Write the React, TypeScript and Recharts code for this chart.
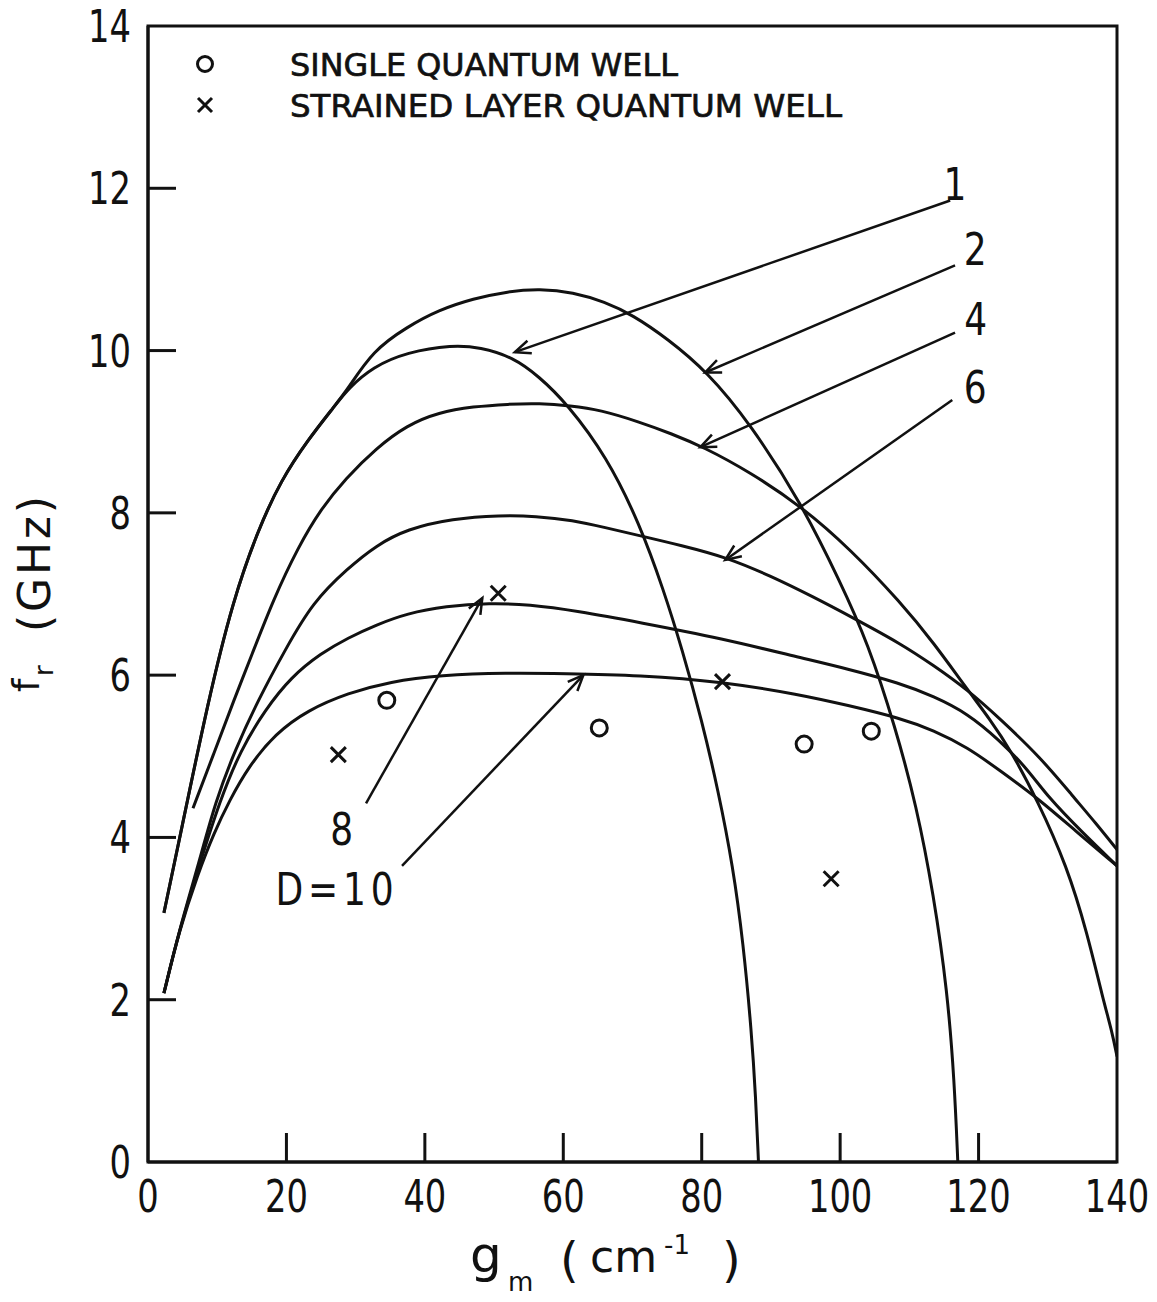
import React from "react";
import {
  ComposedChart,
  Line,
  Scatter,
  XAxis,
  YAxis,
  ReferenceLine,
  ReferenceDot,
  ReferenceArea,
} from "recharts";

type Pt = [number, number];

const xTicks = [0, 20, 40, 60, 80, 100, 120, 140];
const yTicks = [0, 2, 4, 6, 8, 10, 12, 14];

// [g_m, f_r]
// D=1 and D=2 share the rising branch
const riseD12: Pt[] = [
  [2.3, 3.07], [4.6, 4.0], [8.7, 5.69], [12.3, 6.93], [15.9, 7.79],
  [19.2, 8.4], [23.1, 8.9], [27, 9.32], [28.9, 9.53],
];
const fallD1: Pt[] = [
  [32.5, 9.8], [37.4, 9.98], [44, 10.07], [48, 10.04], [52.7, 9.92],
  [56.5, 9.68], [60.5, 9.35], [66.3, 8.69], [71, 7.87], [74.5, 7.05],
  [77.2, 6.31], [80, 5.45], [82.4, 4.57], [84.5, 3.65], [86, 2.7],
  [87.2, 1.6], [87.8, 0.8], [88.2, 0],
];
const fallD2: Pt[] = [
  [32.5, 10.0], [37.4, 10.29], [42, 10.5], [47, 10.64], [52, 10.73],
  [56.6, 10.76], [61.4, 10.72], [66, 10.6], [70, 10.44], [75, 10.15],
  [80.8, 9.74], [87, 9.1], [94.4, 8.12], [100, 7.15], [104, 6.4],
  [108, 5.35], [111, 4.4], [113.5, 3.3], [115.5, 2.1], [116.5, 1.0],
  [117, 0],
];
const curveD4: Pt[] = [
  [6.5, 4.36], [9.5, 5.03], [12.4, 5.69], [15, 6.25], [18.1, 6.93],
  [21.7, 7.58], [25, 8.05], [28.5, 8.42], [33, 8.8], [37.4, 9.08],
  [42, 9.24], [47, 9.31], [52, 9.34], [56.6, 9.35], [61, 9.32],
  [65.3, 9.27], [71, 9.12], [75.5, 8.98], [80.3, 8.81], [87, 8.5],
  [94.4, 8.08], [101.5, 7.55], [108.7, 6.9], [113.5, 6.4], [118.4, 5.82],
  [121.7, 5.45], [124.6, 5.08], [128.5, 4.46], [132.8, 3.64], [135.7, 2.82],
  [138, 2.0], [139.3, 1.6], [140, 1.3],
];
const curveD6: Pt[] = [
  [2.3, 2.08], [4.5, 2.85], [7.2, 3.64], [9.8, 4.46], [12.6, 5.08],
  [15.9, 5.69], [19.8, 6.31], [23.8, 6.9], [28.9, 7.32], [33, 7.6],
  [37.4, 7.8], [44, 7.93], [50.9, 7.97], [56, 7.96], [61.4, 7.91],
  [66, 7.82], [71, 7.72], [77, 7.6], [83.7, 7.45], [90, 7.22],
  [96, 6.97], [102, 6.7], [108.7, 6.39], [113.5, 6.12], [118.4, 5.82],
  [123, 5.47], [128.9, 4.99], [133.7, 4.5], [137, 4.17], [140, 3.85],
];
const curveD8: Pt[] = [
  [2.3, 2.08], [4.5, 2.85], [7.2, 3.6], [10.4, 4.46], [13.4, 5.08],
  [16.9, 5.57], [20.7, 5.98], [25, 6.27], [28.9, 6.46], [33, 6.62],
  [37.4, 6.76], [43, 6.85], [49.4, 6.89], [55, 6.87], [62, 6.79],
  [71, 6.65], [83, 6.45], [94, 6.22], [101, 6.08], [108.7, 5.9],
  [113.5, 5.74], [118.4, 5.53], [123, 5.2], [127, 4.85], [130, 4.5],
  [135, 4.06], [140, 3.65],
];
const curveD10: Pt[] = [
  [2.3, 2.08], [4.5, 2.85], [7.2, 3.55], [9.5, 4.05], [11.8, 4.46],
  [14.5, 4.87], [18.4, 5.28], [23.1, 5.57], [28.9, 5.78], [35, 5.92],
  [42.2, 6.0], [51.9, 6.03], [60, 6.02], [71, 6.0], [83, 5.92],
  [94.2, 5.76], [101, 5.63], [108.7, 5.47], [113.5, 5.32], [118.4, 5.11],
  [123, 4.83], [128.9, 4.46], [134, 4.08], [140, 3.65],
];

// measured points
const singleQW: Pt[] = [[34.5, 5.69], [65.2, 5.35], [94.8, 5.15], [104.5, 5.31]];
const strainedQW: Pt[] = [[27.5, 5.02], [50.6, 7.01], [83, 5.92], [98.7, 3.49]];

// curve labels: text, g, f (baseline centre)
const curveLabels: [string, number, number][] = [
  ["1", 116.6, 11.85],
  ["2", 119.5, 11.05],
  ["4", 119.6, 10.19],
  ["6", 119.5, 9.35],
  ["8", 28.0, 3.91],
  ["D=10", 27.3, 3.17],
];

// arrows: tail g, tail f, tip g, tip f
const arrows: [number, number, number, number][] = [
  [115.9, 11.85, 53, 9.98],
  [116.6, 11.05, 80.5, 9.73],
  [116.6, 10.22, 79.8, 8.81],
  [116.2, 9.39, 83.4, 7.42],
  [31.5, 4.42, 48.3, 6.95],
  [36.7, 3.65, 62.9, 6.0],
];

const toPts = (a: Pt[]) => a.map(([g, f]) => ({ g, f }));

const curves = [
  { name: "D=1", pts: [...riseD12, ...fallD1] },
  { name: "D=2", pts: [...riseD12, ...fallD2] },
  { name: "D=4", pts: curveD4 },
  { name: "D=6", pts: curveD6 },
  { name: "D=8", pts: curveD8 },
  { name: "D=10", pts: curveD10 },
];

const INK = "#111";
const FONT = "DejaVu Sans";

const XTick = (p: any) => {
  const { x, y, payload } = p;
  const v = payload.value;
  const inner = v !== 0 && v !== 140;
  return (
    <g>
      {inner && <line x1={x} y1={y} x2={x} y2={y - 29} stroke={INK} strokeWidth={3} />}
      <g transform={`translate(${x},${y + 50}) scale(0.75,1)`}>
        <text textAnchor="middle" fontFamily={FONT} fontSize={45} fill={INK}>
          {v}
        </text>
      </g>
    </g>
  );
};

const YTick = (p: any) => {
  const { x, y, payload } = p;
  const v = payload.value;
  const inner = v !== 0 && v !== 14;
  return (
    <g>
      {inner && <line x1={x} y1={y} x2={x + 28} y2={y} stroke={INK} strokeWidth={3} />}
      <g transform={`translate(${x - 17},${y + 16}) scale(0.75,1)`}>
        <text textAnchor="end" fontFamily={FONT} fontSize={45} fill={INK}>
          {v}
        </text>
      </g>
    </g>
  );
};

const XTitle = ({ viewBox }: any) => {
  const x0 = viewBox.x + 322;
  const yb = viewBox.y + 110;
  return (
    <g fill={INK} fontFamily={FONT}>
      <text x={x0} y={yb} fontSize={50}>g</text>
      <text x={x0 + 38} y={yb + 19} fontSize={26}>m</text>
      <text x={x0 + 90} y={yb + 5} fontSize={48}>(</text>
      <text x={x0 + 120} y={yb} fontSize={44}>cm</text>
      <text x={x0 + 194} y={yb - 18} fontSize={26}>-1</text>
      <text x={x0 + 252} y={yb + 5} fontSize={48}>)</text>
    </g>
  );
};

const YTitle = ({ viewBox }: any) => {
  const cx = viewBox.x + 25;
  const cy = viewBox.y + viewBox.height / 2;
  return (
    <g transform={`translate(${cx},${cy}) rotate(-90)`} fill={INK} fontFamily={FONT}>
      <text x={-98} y={6} fontSize={38}>f</text>
      <text x={-82} y={20} fontSize={26}>r</text>
      <text x={-38} y={17} fontSize={44} textLength={136} lengthAdjust="spacing">
        (GHz)
      </text>
    </g>
  );
};

const Arrow = (p: any) => {
  const { x1, y1, x2, y2 } = p;
  const ang = Math.atan2(y2 - y1, x2 - x1);
  const L = 17;
  const a = 0.4;
  const hx1 = x2 - L * Math.cos(ang - a);
  const hy1 = y2 - L * Math.sin(ang - a);
  const hx2 = x2 - L * Math.cos(ang + a);
  const hy2 = y2 - L * Math.sin(ang + a);
  return (
    <g>
      <line x1={x1} y1={y1} x2={x2} y2={y2} stroke={INK} strokeWidth={2.5} />
      <path
        d={`M${hx1},${hy1} L${x2},${y2} L${hx2},${hy2}`}
        fill="none"
        stroke={INK}
        strokeWidth={2.5}
      />
    </g>
  );
};

const CircleMark = (p: any) => (
  <circle cx={p.cx} cy={p.cy} r={8} fill="none" stroke={INK} strokeWidth={3} />
);

const CrossMark = (p: any) => {
  const s = 7.5;
  return (
    <path
      d={`M${p.cx - s},${p.cy - s} L${p.cx + s},${p.cy + s} M${p.cx - s},${p.cy + s} L${p.cx + s},${p.cy - s}`}
      stroke={INK}
      strokeWidth={3}
    />
  );
};

export default function App() {
  return (
    <div
      style={{
        position: "absolute",
        left: 0,
        top: 0,
        width: 1157,
        height: 1302,
        background: "#fff",
      }}
    >
      <ComposedChart
        width={1157}
        height={1302}
        margin={{ top: 26, right: 40, left: 8, bottom: 10 }}
      >
        <XAxis
          type="number"
          dataKey="g"
          domain={[0, 140]}
          ticks={xTicks}
          interval={0}
          allowDataOverflow
          height={130}
          tickSize={0}
          tickMargin={0}
          tickLine={false}
          axisLine={{ stroke: INK, strokeWidth: 3 }}
          tick={<XTick />}
          label={{ content: (p: any) => <XTitle {...p} /> }}
        />
        <YAxis
          type="number"
          dataKey="f"
          domain={[0, 14]}
          ticks={yTicks}
          interval={0}
          allowDataOverflow
          width={140}
          tickSize={0}
          tickMargin={0}
          tickLine={false}
          axisLine={{ stroke: INK, strokeWidth: 3 }}
          tick={<YTick />}
          label={{ content: (p: any) => <YTitle {...p} /> }}
        />
        <ReferenceArea
          x1={0}
          x2={140}
          y1={0}
          y2={14}
          fill="none"
          fillOpacity={0}
          stroke={INK}
          strokeWidth={3}
        />
        {curves.map((c) => (
          <Line
            key={c.name}
            name={c.name}
            data={toPts(c.pts)}
            dataKey="f"
            type="basis"
            stroke={INK}
            strokeWidth={3}
            dot={false}
            activeDot={false}
            isAnimationActive={false}
          />
        ))}
        <Scatter
          name="SINGLE QUANTUM WELL"
          data={toPts(singleQW)}
          dataKey="f"
          shape={CircleMark}
          isAnimationActive={false}
        />
        <Scatter
          name="STRAINED LAYER QUANTUM WELL"
          data={toPts(strainedQW)}
          dataKey="f"
          shape={CrossMark}
          isAnimationActive={false}
        />
        {arrows.map(([g1, f1, g2, f2], i) => (
          <ReferenceLine
            key={`arrow-${i}`}
            segment={[
              { x: g1, y: f1 },
              { x: g2, y: f2 },
            ]}
            shape={Arrow}
          />
        ))}
        {curveLabels.map(([t, g, f]) => (
          <ReferenceDot
            key={`lab-${t}`}
            x={g}
            y={f}
            r={1}
            shape={(p: any) => (
              <g transform={`translate(${p.cx},${p.cy}) scale(0.8,1)`}>
                <text
                  textAnchor="middle"
                  fontFamily={FONT}
                  fontSize={45}
                  fill={INK}
                  letterSpacing={t.length > 1 ? 6 : 0}
                >
                  {t}
                </text>
              </g>
            )}
          />
        ))}
      </ComposedChart>
      <svg
        width={900}
        height={130}
        style={{ position: "absolute", left: 0, top: 0, pointerEvents: "none" }}
      >
        <circle cx={205} cy={64} r={7.5} fill="none" stroke={INK} strokeWidth={3} />
        <path d="M198,98 L212,112 M198,112 L212,98" stroke={INK} strokeWidth={3} />
        <text
          x={290}
          y={76}
          fontFamily={FONT}
          fontSize={32}
          fill={INK}
          stroke={INK}
          strokeWidth={0.7}
          textLength={388}
          lengthAdjust="spacingAndGlyphs"
        >
          SINGLE QUANTUM WELL
        </text>
        <text
          x={290}
          y={117}
          fontFamily={FONT}
          fontSize={32}
          fill={INK}
          stroke={INK}
          strokeWidth={0.7}
          textLength={552}
          lengthAdjust="spacingAndGlyphs"
        >
          STRAINED LAYER QUANTUM WELL
        </text>
      </svg>
    </div>
  );
}
